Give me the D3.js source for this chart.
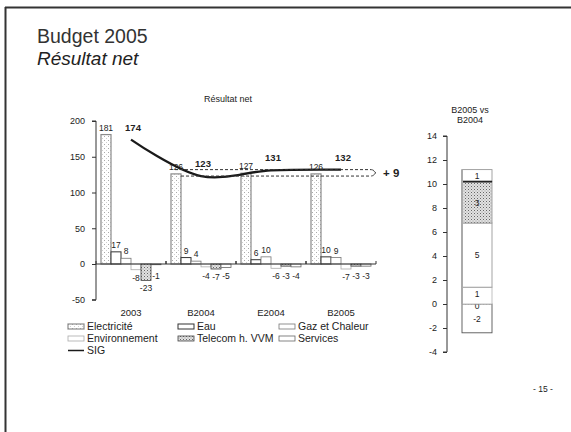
<!DOCTYPE html>
<html><head><meta charset="utf-8">
<script src="https://cdn.jsdelivr.net/npm/d3@7"></script>
<style>
html,body{margin:0;padding:0;background:#fff;}
svg text{font-family:"Liberation Sans",Arial,sans-serif;fill:#222;}
</style></head>
<body>
<svg id="c" width="571" height="432"></svg>
<script>
// ---------- data ----------
const categories = ["2003", "B2004", "E2004", "B2005"];
const seriesNames = ["Electricité", "Eau", "Gaz et Chaleur", "Environnement", "Telecom h. VVM", "Services"];
const electricite = [181, 126, 127, 126];
const eau = [17, 9, 6, 10];
const gaz = [8, 4, 10, 9];
const environnement = [-8, -4, -6, -7];
const telecom = [-23, -7, -3, -3];
const services = [-1, -5, -4, -3];
const sig = [174, 123, 131, 132];
const yTicksMain = [-50, 0, 50, 100, 150, 200];

const deltaSeries = ["Environnement", "Electricité", "Eau", "Gaz et Chaleur", "Telecom h. VVM", "Services"];
const deltaValues = [-2.4, 0, 1.4, 5.35, 3.45, 1.0];
const deltaTotal = 9;
const yTicksRight = [-4, -2, 0, 2, 4, 6, 8, 10, 12, 14];

const seriesValues = [electricite, eau, gaz, environnement, telecom, services];

const svg = d3.select("#c");
const fmt = d => String(d);

// patterns
const defs = svg.append("defs");
const pl = defs.append("pattern").attr("id", "stipL").attr("width", 4).attr("height", 4).attr("patternUnits", "userSpaceOnUse");
pl.append("rect").attr("width", 4).attr("height", 4).attr("fill", "#fff");
pl.append("rect").attr("x", 0).attr("y", 0).attr("width", 1).attr("height", 1).attr("fill", "#aaa");
pl.append("rect").attr("x", 2).attr("y", 2).attr("width", 1).attr("height", 1).attr("fill", "#d0d0d0");
const pd = defs.append("pattern").attr("id", "stipD").attr("width", 3).attr("height", 3).attr("patternUnits", "userSpaceOnUse");
pd.append("rect").attr("width", 3).attr("height", 3).attr("fill", "#e2e2e2");
pd.append("rect").attr("x", 0).attr("y", 0).attr("width", 1).attr("height", 1).attr("fill", "#666");
pd.append("rect").attr("x", 1.5).attr("y", 1.5).attr("width", 1).attr("height", 1).attr("fill", "#999");

const styles = {
  "Electricité": {fill: "url(#stipL)", stroke: "#8a8a8a", sw: 1.2},
  "Eau": {fill: "#fff", stroke: "#333", sw: 1},
  "Gaz et Chaleur": {fill: "#fff", stroke: "#777", sw: 0.8},
  "Environnement": {fill: "#fff", stroke: "#aaa", sw: 0.8},
  "Telecom h. VVM": {fill: "url(#stipD)", stroke: "#444", sw: 0.8},
  "Services": {fill: "#fff", stroke: "#666", sw: 0.8}
};

// frame
svg.append("line").attr("x1", 5).attr("y1", 7.5).attr("x2", 571).attr("y2", 7.5).attr("stroke", "#333").attr("stroke-width", 2);
svg.append("line").attr("x1", 5.5).attr("y1", 7).attr("x2", 5.5).attr("y2", 432).attr("stroke", "#333").attr("stroke-width", 2);

// titles
svg.append("text").attr("x", 37).attr("y", 43).attr("font-size", 19.5).style("fill", "#333").text("Budget 2005");
svg.append("text").attr("x", 37).attr("y", 65).attr("font-size", 19).attr("font-style", "italic").text("Résultat net");
svg.append("text").attr("x", 228).attr("y", 102).attr("font-size", 9).attr("text-anchor", "middle").text("Résultat net");
svg.append("text").attr("x", 543).attr("y", 392).attr("font-size", 8.5).attr("text-anchor", "middle").text("- 15 -");

// ---------- main chart ----------
const x0 = d3.scaleBand().domain(categories).range([96, 376]).paddingInner(1 / 7).paddingOuter(1 / 14);
const x1 = d3.scaleBand().domain(seriesNames).range([0, x0.bandwidth()]);
const y = d3.scaleLinear().domain([-50, 200]).range([299.75, 121]);

const gMain = svg.append("g");
seriesNames.forEach((s, si) => {
  const st = styles[s];
  categories.forEach((c, ci) => {
    const v = seriesValues[si][ci];
    const xx = x0(c) + x1(s);
    gMain.append("rect")
      .attr("x", xx).attr("width", x1.bandwidth())
      .attr("y", y(Math.max(0, v))).attr("height", Math.abs(y(v) - y(0)))
      .attr("fill", st.fill).attr("stroke", st.stroke).attr("stroke-width", st.sw);
    const lx = xx + x1.bandwidth() / 2;
    const ly = v >= 0 ? y(v) - 4 : y(Math.min(v, -5)) + 11;
    gMain.append("text").attr("x", lx).attr("y", ly).attr("font-size", 8.5)
      .attr("text-anchor", "middle").text(v);
  });
});

// axes
const yAxis = d3.axisLeft(y).tickValues(yTicksMain).tickFormat(fmt).tickSize(4).tickPadding(7);
const gy = svg.append("g").attr("transform", "translate(96,0)").call(yAxis);
gy.selectAll("text").attr("font-size", 9).style("fill", "#222");
gy.selectAll("line,path").attr("stroke", "#333");
gy.select(".domain").attr("d", `M-4,${y(200)}H0V${y(-50)}H-4`);

svg.append("line").attr("x1", 96).attr("x2", 376).attr("y1", y(0)).attr("y2", y(0)).attr("stroke", "#333");
categories.forEach((c, i) => {
  [x0(c) - 5, x0(c) + x0.bandwidth() + 5].forEach(t => {
    svg.append("line").attr("x1", t).attr("x2", t).attr("y1", y(0)).attr("y2", y(0) - 3).attr("stroke", "#333");
  });
  svg.append("text").attr("x", x0(c) + x0.bandwidth() / 2).attr("y", 316).attr("font-size", 9.5)
    .attr("text-anchor", "middle").text(c);
});

// SIG line
const line = d3.line().x((d, i) => x0(categories[i]) + x0.bandwidth() / 2).y(d => y(d)).curve(d3.curveCatmullRom.alpha(0.5));
svg.append("path").attr("d", line(sig)).attr("fill", "none").attr("stroke", "#1a1a1a").attr("stroke-width", 2.3);
sig.forEach((v, i) => {
  svg.append("text").attr("x", x0(categories[i]) + x0.bandwidth() / 2 + 2).attr("y", y(v) - 9)
    .attr("font-size", 9.5).attr("font-weight", "bold").attr("text-anchor", "middle").text(v);
});

// dashed comparison
const yHi = y(sig[3]), yLo = y(sig[1]);
const xEnd = 371;
svg.append("line").attr("x1", x0(categories[1]) + 4).attr("x2", xEnd).attr("y1", yHi).attr("y2", yHi)
  .attr("stroke", "#333").attr("stroke-dasharray", "3,2");
svg.append("line").attr("x1", x0(categories[1]) + 10).attr("x2", xEnd).attr("y1", yLo).attr("y2", yLo)
  .attr("stroke", "#333").attr("stroke-dasharray", "3,2");
const ym = (yHi + yLo) / 2;
svg.append("path").attr("d", `M${xEnd},${yHi} Q${xEnd + 3},${yHi} ${xEnd + 3},${ym - 1.5} L${xEnd + 5},${ym} L${xEnd + 3},${ym + 1.5} Q${xEnd + 3},${yLo} ${xEnd},${yLo}`)
  .attr("fill", "none").attr("stroke", "#333").attr("stroke-width", 0.8);
svg.append("text").attr("x", 383).attr("y", ym + 4.5).attr("font-size", 11.5).attr("font-weight", "bold").text("+ " + deltaTotal);

// legend
const legItems = seriesNames.map(s => ({name: s, type: "rect"})).concat([{name: "SIG", type: "line"}]);
const legCols = [68, 178, 279];
const legRows = [330, 342, 354];
legItems.forEach((it, i) => {
  const cx = legCols[i % 3], cy = legRows[Math.floor(i / 3)];
  if (it.type === "rect") {
    const st = styles[it.name];
    svg.append("rect").attr("x", cx).attr("y", cy - 6).attr("width", 16).attr("height", 5)
      .attr("fill", st.fill).attr("stroke", st.stroke).attr("stroke-width", st.sw);
  } else {
    svg.append("line").attr("x1", cx).attr("x2", cx + 16).attr("y1", cy - 3.5).attr("y2", cy - 3.5)
      .attr("stroke", "#1a1a1a").attr("stroke-width", 1.5);
  }
  svg.append("text").attr("x", cx + 19).attr("y", cy).attr("font-size", 10.5).text(it.name);
});

// ---------- right chart ----------
const xr = d3.scaleBand().domain(["B2005 vs B2004"]).range([447, 507]).paddingInner(0.5).paddingOuter(0.25);
const yr = d3.scaleLinear().domain([-4, 14]).range([352, 136]);
svg.append("text").attr("x", 470).attr("y", 113).attr("font-size", 9).attr("text-anchor", "middle").text("B2005 vs");
svg.append("text").attr("x", 470).attr("y", 123).attr("font-size", 9).attr("text-anchor", "middle").text("B2004");

const gr = svg.append("g").attr("transform", "translate(447,0)").call(d3.axisLeft(yr).tickValues(yTicksRight).tickFormat(fmt).tickSize(4).tickPadding(6));
gr.selectAll("text").attr("font-size", 9).style("fill", "#222");
gr.selectAll("line,path").attr("stroke", "#333");
gr.select(".domain").attr("d", `M-4,${yr(14)}H0V${yr(-4)}H-4`);

const rStyles = {
  "Environnement": {fill: "#fff", stroke: "#555"},
  "Electricité": {fill: "#fff", stroke: "#aaa"},
  "Eau": {fill: "#fff", stroke: "#bbb"},
  "Gaz et Chaleur": {fill: "#fff", stroke: "#999"},
  "Telecom h. VVM": {fill: "url(#stipD)", stroke: "#999"},
  "Services": {fill: "#fff", stroke: "#999"}
};
const bx = xr("B2005 vs B2004"), bw = xr.bandwidth();
let posBase = 0, negBase = 0;
deltaValues.forEach((v, i) => {
  let y0, y1v;
  if (v < 0) { y0 = negBase + v; y1v = negBase; negBase += v; }
  else { y0 = posBase; y1v = posBase + v; posBase += v; }
  const s = deltaSeries[i];
  const st = rStyles[s];
  if (v !== 0) {
    svg.append("rect").attr("x", bx).attr("width", bw).attr("y", yr(y1v)).attr("height", yr(y0) - yr(y1v))
      .attr("fill", st.fill).attr("stroke", st.stroke).attr("stroke-width", 0.9);
  } else {
    svg.append("line").attr("x1", bx).attr("x2", bx + bw).attr("y1", yr(0)).attr("y2", yr(0))
      .attr("stroke", "#888").attr("stroke-dasharray", "1,2");
  }
  let ly = yr((y0 + y1v) / 2) + 3.2;
  if (v === 0) ly = yr(0) + 5;
  else if (Math.abs(v) < 2 && v > 0 && y0 === 0) ly = yr((y0 + y1v) / 2) + 1.5;
  svg.append("text").attr("x", bx + bw / 2).attr("y", ly).attr("font-size", 8.5)
    .attr("text-anchor", "middle").text(Math.round(v));
});
const topPos = posBase;
svg.append("line").attr("x1", bx).attr("x2", bx + bw).attr("y1", yr(topPos - deltaValues[5])).attr("y2", yr(topPos - deltaValues[5]))
  .attr("stroke", "#222").attr("stroke-width", 1.8);
svg.append("line").attr("x1", bx).attr("x2", bx).attr("y1", yr(topPos)).attr("y2", yr(0)).attr("stroke", "#aaa").attr("stroke-width", 2);
</script>
</body></html>
